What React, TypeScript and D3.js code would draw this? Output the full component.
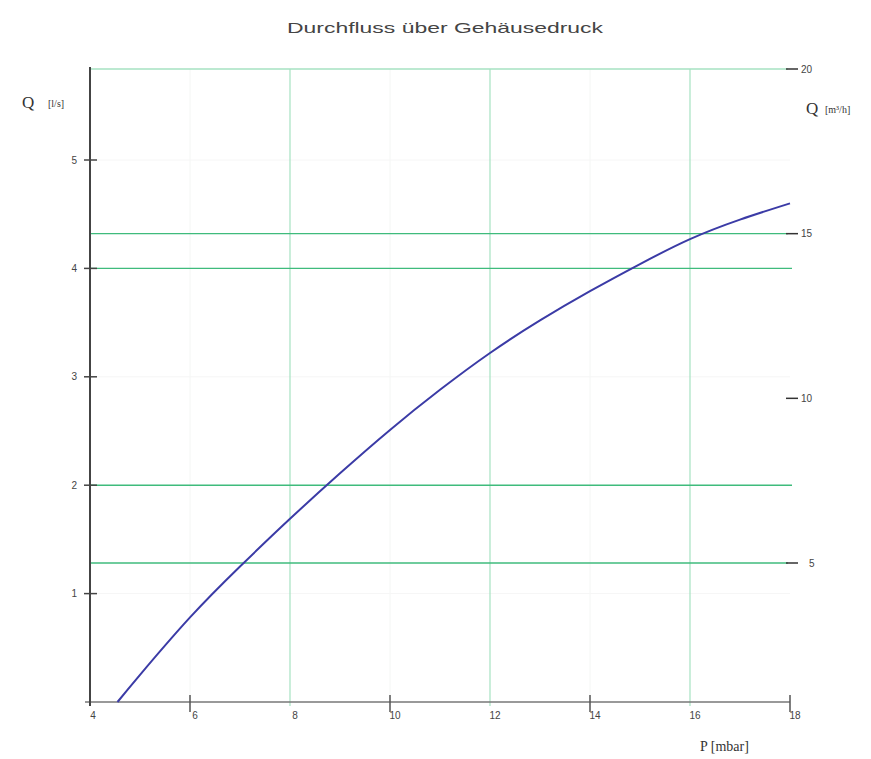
import React from "react";
import * as d3 from "d3";

const pressure = [4.55, 5, 6, 7, 8, 9, 10, 11, 12, 13, 14, 15, 16, 17, 18];
const flow = [0, 0.25, 0.78, 1.25, 1.69, 2.11, 2.51, 2.88, 3.22, 3.52, 3.79, 4.04, 4.27, 4.45, 4.6];
const xTicks = [4, 6, 8, 10, 12, 14, 16, 18];
const xDarkTicks = [6, 10, 14, 18];
const xGreenGrid = [8, 12, 16];
const xFaintGrid = [6, 10, 14];
const leftTicks = [1, 2, 3, 4, 5];
const leftRefLines = [2, 4];
const rightTicks = [5, 10, 15, 20];
const rightRefLines = [5, 15];
const title = "Durchfluss über Gehäusedruck";

export default function App() {
  const W = 871, H = 759;
  const x = d3.scaleLinear().domain([4, 18]).range([90, 790]);
  const yL = d3.scaleLinear().domain([0, 5]).range([702, 160]);
  const yR = d3.scaleLinear().domain([5, 20]).range([563, 69]);
  const top = yR(20);
  const line = d3
    .line<number>()
    .x((_, i) => x(pressure[i]))
    .y((d) => yL(d))
    .curve(d3.curveNatural);
  const sans = "'Liberation Sans', Arial, sans-serif";
  const serif = "'Liberation Serif', 'Times New Roman', serif";
  return (
    <svg width={W} height={H} style={{ position: "absolute", left: 0, top: 0, background: "#fff" }}>
      <rect x={0} y={0} width={W} height={H} fill="#fff" />
      <text x={445} y={33} textAnchor="middle" fontFamily={sans} fontSize={15} fill="#444"
        textLength={316} lengthAdjust="spacingAndGlyphs">{title}</text>

      {xFaintGrid.map((v) => (
        <line key={"fg" + v} x1={x(v)} x2={x(v)} y1={top} y2={702} stroke="#f4f6f4" strokeWidth={1} />
      ))}
      {[1, 3, 5].map((v) => (
        <line key={"fh" + v} x1={90} x2={790} y1={yL(v)} y2={yL(v)} stroke="#f6f6f6" strokeWidth={1} />
      ))}
      {xGreenGrid.map((v) => (
        <line key={"gv" + v} x1={x(v)} x2={x(v)} y1={top} y2={706} stroke="#a6e2c2" strokeWidth={1.2} />
      ))}
      <line x1={91} x2={788} y1={top} y2={top} stroke="#a6e2c2" strokeWidth={1.5} />
      {leftRefLines.map((v) => (
        <line key={"lr" + v} x1={91} x2={792} y1={yL(v)} y2={yL(v)} stroke="#3fbb7c" strokeWidth={1.4} />
      ))}
      {rightRefLines.map((v) => (
        <line key={"rr" + v} x1={91} x2={788} y1={yR(v)} y2={yR(v)} stroke="#3fbb7c" strokeWidth={1.4} />
      ))}

      <line x1={85} x2={790} y1={702} y2={702} stroke="#777" strokeWidth={1.5} />
      {xDarkTicks.map((v) => (
        <line key={"xt" + v} x1={x(v)} x2={x(v)} y1={695} y2={712} stroke="#555" strokeWidth={1.5} />
      ))}
      {xTicks.map((v) => (
        <text key={"xl" + v} x={x(v) + (v === 4 ? 3 : 5)} y={719} textAnchor="middle" fontFamily={sans} fontSize={10} fill="#444">
          {v}
        </text>
      ))}
      <text x={700} y={751} fontFamily={serif} fontSize={14} fill="#333">P [mbar]</text>

      <line x1={90} x2={90} y1={top - 2} y2={706} stroke="#444" strokeWidth={2} />
      {leftTicks.map((v) => (
        <g key={"lt" + v}>
          <line x1={84} x2={97} y1={yL(v)} y2={yL(v)} stroke="#444" strokeWidth={1.5} />
          <text x={77} y={yL(v) + 3.5} textAnchor="end" fontFamily={sans} fontSize={10} fill="#444">{v}</text>
        </g>
      ))}
      <text x={22} y={108} fontFamily={serif} fontSize={17} fill="#333">Q</text>
      <text x={48} y={107} fontFamily={serif} fontSize={10} fill="#333">[l/s]</text>

      {rightTicks.map((v) => (
        <g key={"rt" + v}>
          <line x1={786} x2={798} y1={yR(v)} y2={yR(v)} stroke="#333" strokeWidth={1.5} />
          <text x={v === 5 ? 809 : 801} y={yR(v) + 3.5} fontFamily={sans} fontSize={10} fill="#444">{v}</text>
        </g>
      ))}
      <text x={806} y={114} fontFamily={serif} fontSize={17} fill="#333">Q</text>
      <text x={825} y={113} fontFamily={serif} fontSize={10} fill="#333">[m³/h]</text>

      <path d={line(flow) || ""} fill="none" stroke="#3b3ba6" strokeWidth={2} />
    </svg>
  );
}
